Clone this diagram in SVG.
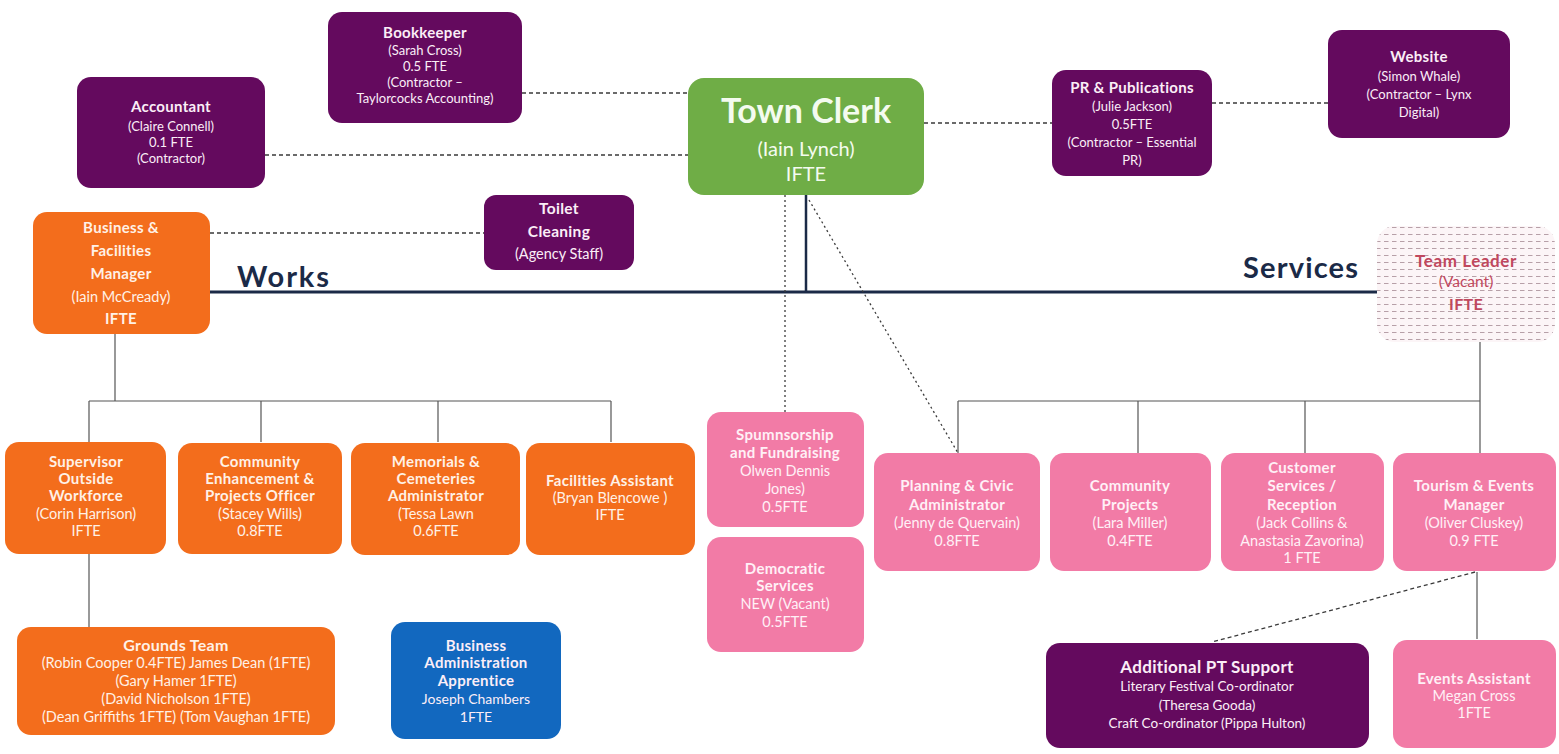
<svg xmlns="http://www.w3.org/2000/svg" width="1559" height="754" viewBox="0 0 1559 754">
<defs>
<style>
.purple{fill:#640a5e}
.green{fill:#6fad46}
.orange{fill:#f36d1c}
.pink{fill:#f27ba6}
.blue{fill:#1268bf}
text{font-family:Lato,"Liberation Sans",sans-serif;text-anchor:middle}
.t{font-size:13px;fill:#fbeef7}
.ot{font-size:14.5px;fill:#fff1e6}
.pt{font-size:14.5px;fill:#fff0f6}
.b{font-weight:bold;font-size:15px;letter-spacing:0.3px}
.head{font-weight:bold;fill:#1b2a47;text-anchor:start}
.tl{fill:#c0485e;font-size:15.5px}
.dash{stroke:#3a3a3a;stroke-width:1.3;stroke-dasharray:4 3;fill:none}
.dot{stroke:#3a3a3a;stroke-width:1.3;stroke-dasharray:2 3;fill:none}
.thin{stroke:#555;stroke-width:1.2;fill:none}
.main{stroke:#1b2a47;stroke-width:3;fill:none}
</style>
<pattern id="hatch" width="8" height="7" patternUnits="userSpaceOnUse">
<rect width="8" height="7" fill="#fcf5f7"/>
<line x1="0" y1="3.5" x2="4.5" y2="3.5" stroke="#b7a0a8" stroke-width="1"/>
</pattern>
</defs>
<rect width="1559" height="754" fill="#ffffff"/>

<g id="connectors">
<path class="dash" d="M522 93H688"/>
<path class="dash" d="M265 155H688"/>
<path class="dash" d="M924 123H1052"/>
<path class="dash" d="M1212 103H1328" stroke="#888"/>
<path class="dash" d="M210 233H484"/>
<path class="main" d="M210 292H1377"/>
<path d="M806 195V292" stroke="#1b2a47" stroke-width="2.5" fill="none"/>
<path class="dot" d="M785 195V412"/>
<path class="dot" d="M809 200L958 453"/>
<path class="thin" d="M115 334V401M89 401H611M89 401V442M261 401V442M438 401V442M611 401V442"/>
<path class="thin" d="M89 553V627"/>
<path class="thin" d="M1480 340V401M958 401H1480M958 401V453M1138 401V453M1305 401V453M1480 401V453"/>
<path class="thin" d="M1477 572V639"/>
<path class="dash" d="M1475 572L1212 642"/>
</g>

<g id="accountant">
<rect class="purple" x="77" y="77" width="188" height="111" rx="14"/>
<text class="t b" x="171" y="112">Accountant</text>
<text class="t" x="171" y="131">(Claire Connell)</text>
<text class="t" x="171" y="147">0.1 FTE</text>
<text class="t" x="171" y="163">(Contractor)</text>
</g>

<g id="bookkeeper">
<rect class="purple" x="328" y="12" width="194" height="111" rx="14"/>
<text class="t b" x="425" y="38">Bookkeeper</text>
<text class="t" x="425" y="55">(Sarah Cross)</text>
<text class="t" x="425" y="71">0.5 FTE</text>
<text class="t" x="425" y="87">(Contractor –</text>
<text class="t" x="425" y="103">Taylorcocks Accounting)</text>
</g>

<g id="town-clerk">
<rect class="green" x="688" y="78" width="236" height="117" rx="16"/>
<text x="806" y="123" style="font-size:34px;font-weight:bold;fill:#f4fbef">Town Clerk</text>
<text x="806" y="156" style="font-size:20px;fill:#f4fbef">(Iain Lynch)</text>
<text x="806" y="181" style="font-size:20px;fill:#f4fbef">IFTE</text>
</g>

<g id="pr">
<rect class="purple" x="1052" y="70" width="160" height="106" rx="14"/>
<text class="t b" x="1132" y="93">PR &amp; Publications</text>
<text class="t" x="1132" y="111">(Julie Jackson)</text>
<text class="t" x="1132" y="129">0.5FTE</text>
<text class="t" x="1132" y="147">(Contractor – Essential</text>
<text class="t" x="1132" y="165">PR)</text>
</g>

<g id="website">
<rect class="purple" x="1328" y="30" width="182" height="108" rx="14"/>
<text class="t b" x="1419" y="62">Website</text>
<text class="t" x="1419" y="81">(Simon Whale)</text>
<text class="t" x="1419" y="99">(Contractor – Lynx</text>
<text class="t" x="1419" y="117">Digital)</text>
</g>

<g id="toilet">
<rect class="purple" x="484" y="195" width="150" height="75" rx="12"/>
<text class="t b" x="559" y="214" style="font-size:15.5px">Toilet</text>
<text class="t b" x="559" y="237" style="font-size:15.5px">Cleaning</text>
<text class="t" x="559" y="259" style="font-size:14.5px">(Agency Staff)</text>
</g>

<g id="bfm">
<rect class="orange" x="33" y="212" width="177" height="122" rx="14"/>
<text class="ot b" x="121" y="233">Business &amp;</text>
<text class="ot b" x="121" y="256">Facilities</text>
<text class="ot b" x="121" y="279">Manager</text>
<text class="ot" x="121" y="302">(Iain McCready)</text>
<text class="ot b" x="121" y="324">IFTE</text>
</g>

<text class="head" x="237" y="287" style="font-size:29px" textLength="92">Works</text>
<text class="head" x="1243" y="278" style="font-size:29px" textLength="115">Services</text>

<g id="team-leader">
<rect x="1377" y="226" width="178" height="116" rx="18" fill="url(#hatch)"/>
<text class="tl b" x="1466" y="267" style="font-size:17px;letter-spacing:0.6px">Team Leader</text>
<text class="tl" x="1466" y="287">(Vacant)</text>
<text class="tl b" x="1466" y="310" style="font-size:16px">IFTE</text>
</g>

<g id="supervisor">
<rect class="orange" x="5" y="442" width="161" height="112" rx="14"/>
<text class="ot b" x="86" y="467">Supervisor</text>
<text class="ot b" x="86" y="484">Outside</text>
<text class="ot b" x="86" y="501">Workforce</text>
<text class="ot" x="86" y="519">(Corin Harrison)</text>
<text class="ot" x="86" y="536">IFTE</text>
</g>

<g id="community-enhancement">
<rect class="orange" x="178" y="443" width="164" height="111" rx="14"/>
<text class="ot b" x="260" y="467">Community</text>
<text class="ot b" x="260" y="484">Enhancement &amp;</text>
<text class="ot b" x="260" y="501">Projects Officer</text>
<text class="ot" x="260" y="519">(Stacey Wills)</text>
<text class="ot" x="260" y="536">0.8FTE</text>
</g>

<g id="memorials">
<rect class="orange" x="351" y="443" width="169" height="112" rx="14"/>
<text class="ot b" x="436" y="467">Memorials &amp;</text>
<text class="ot b" x="436" y="484">Cemeteries</text>
<text class="ot b" x="436" y="501">Administrator</text>
<text class="ot" x="436" y="519">(Tessa Lawn</text>
<text class="ot" x="436" y="536">0.6FTE</text>
</g>

<g id="facilities-assistant">
<rect class="orange" x="526" y="443" width="169" height="112" rx="14"/>
<text class="ot b" x="610" y="486">Facilities Assistant</text>
<text class="ot" x="610" y="503">(Bryan Blencowe )</text>
<text class="ot" x="610" y="520">IFTE</text>
</g>

<g id="grounds">
<rect class="orange" x="17" y="627" width="318" height="108" rx="14"/>
<text class="ot b" x="176" y="651" style="font-size:16px">Grounds Team</text>
<text class="ot" x="176" y="668">(Robin Cooper 0.4FTE) James Dean (1FTE)</text>
<text class="ot" x="176" y="686">(Gary Hamer 1FTE)</text>
<text class="ot" x="176" y="704">(David Nicholson 1FTE)</text>
<text class="ot" x="176" y="722">(Dean Griffiths 1FTE)  (Tom Vaughan 1FTE)</text>
</g>

<g id="apprentice">
<rect class="blue" x="391" y="622" width="170" height="117" rx="14"/>
<text class="t b" x="476" y="651">Business</text>
<text class="t b" x="476" y="668">Administration</text>
<text class="t b" x="476" y="686">Apprentice</text>
<text class="t" x="476" y="704" style="font-size:14px">Joseph Chambers</text>
<text class="t" x="476" y="722" style="font-size:14px">1FTE</text>
</g>

<g id="sponsorship">
<rect class="pink" x="707" y="412" width="157" height="115" rx="14"/>
<text class="pt b" x="785" y="440">Spumnsorship</text>
<text class="pt b" x="785" y="458">and Fundraising</text>
<text class="pt" x="785" y="476">Olwen Dennis</text>
<text class="pt" x="785" y="494">Jones)</text>
<text class="pt" x="785" y="512">0.5FTE</text>
</g>

<g id="democratic">
<rect class="pink" x="707" y="537" width="157" height="115" rx="14"/>
<text class="pt b" x="785" y="574">Democratic</text>
<text class="pt b" x="785" y="591">Services</text>
<text class="pt" x="785" y="609">NEW (Vacant)</text>
<text class="pt" x="785" y="627">0.5FTE</text>
</g>

<g id="planning">
<rect class="pink" x="874" y="453" width="166" height="118" rx="14"/>
<text class="pt b" x="957" y="491">Planning &amp; Civic</text>
<text class="pt b" x="957" y="510">Administrator</text>
<text class="pt" x="957" y="528">(Jenny de Quervain)</text>
<text class="pt" x="957" y="546">0.8FTE</text>
</g>

<g id="community-projects">
<rect class="pink" x="1050" y="453" width="161" height="118" rx="14"/>
<text class="pt b" x="1130" y="491">Community</text>
<text class="pt b" x="1130" y="510">Projects</text>
<text class="pt" x="1130" y="528">(Lara Miller)</text>
<text class="pt" x="1130" y="546">0.4FTE</text>
</g>

<g id="customer-services">
<rect class="pink" x="1221" y="453" width="163" height="118" rx="14"/>
<text class="pt b" x="1302" y="473">Customer</text>
<text class="pt b" x="1302" y="491">Services /</text>
<text class="pt b" x="1302" y="510">Reception</text>
<text class="pt" x="1302" y="528">(Jack Collins &amp;</text>
<text class="pt" x="1302" y="546">Anastasia Zavorina)</text>
<text class="pt" x="1302" y="563">1 FTE</text>
</g>

<g id="tourism">
<rect class="pink" x="1393" y="453" width="163" height="118" rx="14"/>
<text class="pt b" x="1474" y="491">Tourism &amp; Events</text>
<text class="pt b" x="1474" y="510">Manager</text>
<text class="pt" x="1474" y="528">(Oliver Cluskey)</text>
<text class="pt" x="1474" y="546">0.9 FTE</text>
</g>

<g id="additional-pt">
<rect class="purple" x="1046" y="643" width="323" height="105" rx="14"/>
<text class="t b" x="1207" y="673" style="font-size:17px">Additional PT Support</text>
<text class="t" x="1207" y="691" style="font-size:13.5px">Literary Festival Co-ordinator</text>
<text class="t" x="1207" y="710" style="font-size:13.5px">(Theresa Gooda)</text>
<text class="t" x="1207" y="728" style="font-size:13.5px">Craft Co-ordinator (Pippa Hulton)</text>
</g>

<g id="events-assistant">
<rect class="pink" x="1393" y="640" width="163" height="108" rx="14"/>
<text class="pt b" x="1474" y="684">Events Assistant</text>
<text class="pt" x="1474" y="701">Megan Cross</text>
<text class="pt" x="1474" y="718">1FTE</text>
</g>
</svg>
